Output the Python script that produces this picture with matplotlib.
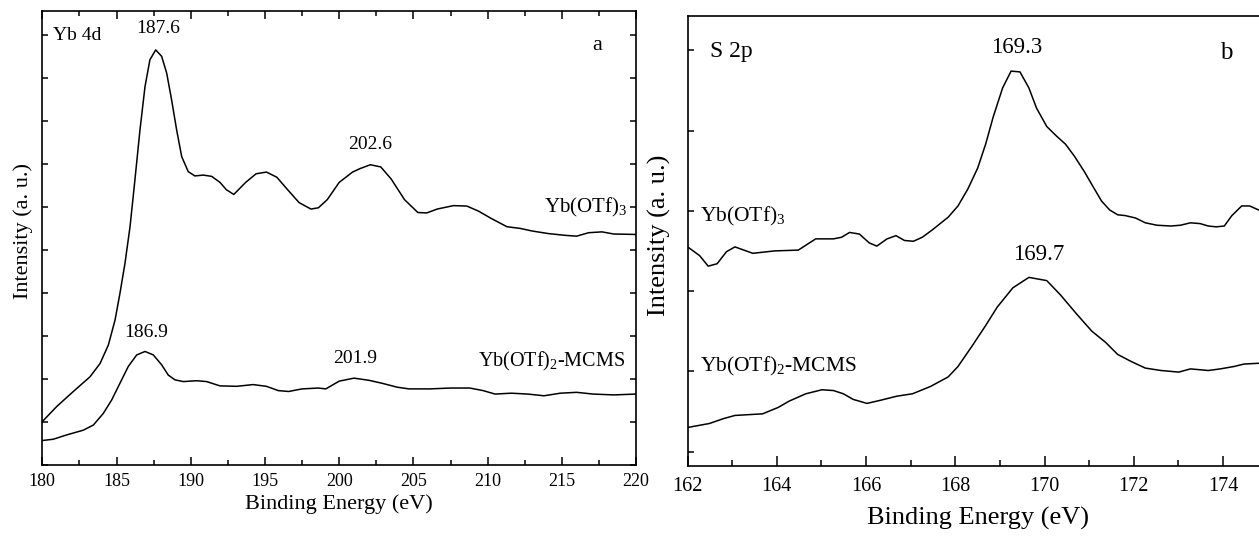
import matplotlib
matplotlib.use("Agg")
import matplotlib.pyplot as plt
from matplotlib.ticker import MultipleLocator, NullFormatter

plt.rcParams["font.family"] = ["Liberation Serif", "DejaVu Serif"]
plt.rcParams["mathtext.default"] = "regular"

# -----------------------------
# Data: (a) Yb 4d
# -----------------------------
yb4d_x_otf3 = [180.0, 180.97, 182.09, 183.21, 183.89, 184.45, 184.90, 185.23, 185.57, 185.91,
               186.24, 186.58, 186.92, 187.25, 187.64, 188.04, 188.38, 188.71, 189.05, 189.39,
               189.83, 190.28, 190.84, 191.41, 191.97, 192.4, 192.9, 193.7,
               194.4, 195.1, 195.8, 196.4, 197.3, 198.1, 198.6, 199.2, 200.0, 200.9,
               201.4, 202.1, 202.8, 203.5, 204.4, 205.3, 205.9, 206.6, 207.7, 208.6,
               209.4, 210.2, 211.3, 212.2, 213.0, 214.1, 215.2, 216.0, 216.8, 217.7,
               218.5, 220.0]
yb4d_y_otf3 = [1.01, 1.36, 1.71, 2.05, 2.36, 2.79, 3.37, 3.99, 4.69, 5.54,
               6.63, 7.79, 8.80, 9.42, 9.65, 9.50, 9.11, 8.49, 7.79, 7.17,
               6.82, 6.72, 6.74, 6.71, 6.57, 6.40, 6.29, 6.57,
               6.77, 6.81, 6.69, 6.45, 6.10, 5.95, 5.98, 6.17, 6.57, 6.81,
               6.89, 6.98, 6.93, 6.65, 6.17, 5.87, 5.86, 5.95, 6.03, 6.02,
               5.90, 5.74, 5.54, 5.50, 5.44, 5.38, 5.34, 5.32, 5.40, 5.42,
               5.37, 5.36]

yb4d_x_mcms = [180.0, 180.74, 181.64, 182.76, 183.44, 184.11, 184.67, 185.23, 185.79, 186.36,
               186.92, 187.48, 188.04, 188.49, 188.94, 189.50, 190.40, 191.07, 191.97, 193.1,
               194.2, 195.1, 195.9, 196.6, 197.5, 198.6, 199.1, 200.0, 201.0, 202.0,
               202.9, 203.9, 204.7, 206.1, 207.5, 208.8, 209.7, 210.5, 211.6, 212.7,
               213.8, 214.9, 216.0, 217.1, 218.5, 220.0]
yb4d_y_mcms = [0.57, 0.60, 0.70, 0.81, 0.93, 1.20, 1.51, 1.90, 2.29, 2.56,
               2.64, 2.56, 2.33, 2.09, 1.98, 1.94, 1.96, 1.94, 1.84, 1.83,
               1.87, 1.83, 1.73, 1.71, 1.77, 1.79, 1.77, 1.95, 2.02, 1.97,
               1.90, 1.81, 1.77, 1.77, 1.79, 1.79, 1.73, 1.65, 1.67, 1.65,
               1.61, 1.67, 1.69, 1.65, 1.63, 1.65]

# -----------------------------
# Data: (b) S 2p
# -----------------------------
s2p_x_otf3 = [162.0, 162.27, 162.46, 162.66, 162.87, 163.06, 163.46, 163.95, 164.48, 164.87,
              165.27, 165.45, 165.63, 165.85, 166.07, 166.24, 166.47, 166.67, 166.86, 167.06,
              167.26, 167.48, 167.84, 168.06, 168.28, 168.50, 168.68, 168.85, 169.06, 169.25,
              169.45, 169.65, 169.82, 170.05, 170.27, 170.47, 170.67, 170.89, 171.11, 171.28,
              171.46, 171.64, 171.81, 172.04, 172.26, 172.52, 172.83, 173.05, 173.27, 173.49,
              173.67, 173.85, 174.03, 174.20, 174.42, 174.60, 174.80]
s2p_y_otf3 = [3.55, 3.44, 3.31, 3.34, 3.49, 3.55, 3.47, 3.50, 3.51, 3.65,
              3.65, 3.67, 3.73, 3.71, 3.60, 3.56, 3.65, 3.69, 3.63, 3.62,
              3.67, 3.76, 3.92, 4.06, 4.27, 4.53, 4.83, 5.17, 5.53, 5.74,
              5.73, 5.53, 5.28, 5.05, 4.93, 4.83, 4.68, 4.49, 4.28, 4.12,
              4.01, 3.95, 3.94, 3.91, 3.85, 3.82, 3.81, 3.82, 3.85, 3.84,
              3.81, 3.80, 3.81, 3.94, 4.06, 4.06, 4.01]

s2p_x_mcms = [162.0, 162.49, 162.80, 163.06, 163.37, 163.68, 164.03, 164.28, 164.65, 165.01,
              165.27, 165.49, 165.71, 166.02, 166.33, 166.69, 167.04, 167.44, 167.84, 168.06,
              168.37, 168.68, 168.94, 169.29, 169.65, 170.05, 170.36, 170.71, 171.06, 171.37,
              171.64, 171.95, 172.26, 172.61, 173.01, 173.27, 173.67, 173.94, 174.25, 174.47,
              174.80]
s2p_y_mcms = [1.30, 1.35, 1.41, 1.45, 1.46, 1.47, 1.55, 1.63, 1.72, 1.77,
              1.76, 1.72, 1.65, 1.60, 1.64, 1.69, 1.72, 1.81, 1.93, 2.06,
              2.31, 2.57, 2.80, 3.04, 3.17, 3.13, 2.95, 2.72, 2.50, 2.36,
              2.21, 2.12, 2.04, 2.01, 1.99, 2.03, 2.01, 2.03, 2.06, 2.09,
              2.10]

label_otf3 = "Yb(OTf)$_3$"
label_mcms = "Yb(OTf)$_2$-MCMS"


fig = plt.figure(figsize=(12.59, 5.37), dpi=100)

# -----------------------------
# Panel a
# -----------------------------
ax1 = fig.add_axes([0.0336, 0.134, 0.4716, 0.846])
ax1.plot(yb4d_x_otf3, yb4d_y_otf3, color="black", lw=1.1)
ax1.plot(yb4d_x_mcms, yb4d_y_mcms, color="black", lw=1.1)
ax1.set_xlim(180, 220)
ax1.set_ylim(0, 10.56)
ax1.xaxis.set_major_locator(MultipleLocator(5))
ax1.xaxis.set_minor_locator(MultipleLocator(2.5))
ax1.yaxis.set_major_locator(MultipleLocator(1))
ax1.yaxis.set_major_formatter(NullFormatter())
ax1.tick_params(which="both", direction="in", top=True, right=True, width=1.1, labelsize=13, pad=6)
ax1.tick_params(which="major", length=6)
ax1.tick_params(which="minor", length=3.5)
ax1.tick_params(axis="y", which="major", length=4)
for s in ax1.spines.values():
    s.set_linewidth(1.2)

ax1.set_xlabel("Binding Energy (eV)", fontsize=16)
ax1.xaxis.set_label_coords(0.5, -0.064)
ax1.set_ylabel("Intensity (a. u.)", fontsize=16)
ax1.yaxis.set_label_coords(-0.016, 0.515)

ax1.text(180.7, 9.98, "Yb 4d", fontsize=14, ha="left", va="center")
ax1.text(217.4, 9.75, "a", fontsize=16, ha="center", va="center")
ax1.text(187.8, 10.14, "187.6", fontsize=14, ha="center", va="center")
ax1.text(202.1, 7.44, "202.6", fontsize=14, ha="center", va="center")
ax1.text(187.0, 3.08, "186.9", fontsize=14, ha="center", va="center")
ax1.text(201.1, 2.48, "201.9", fontsize=14, ha="center", va="center")
ax1.text(219.4, 5.98, label_otf3, fontsize=15, ha="right", va="center")
ax1.text(219.3, 2.40, label_mcms, fontsize=14.5, ha="right", va="center")

# -----------------------------
# Panel b
# -----------------------------
ax2 = fig.add_axes([0.5462, 0.1322, 0.4606, 0.8385])
ax2.plot(s2p_x_otf3, s2p_y_otf3, color="black", lw=1.1)
ax2.plot(s2p_x_mcms, s2p_y_mcms, color="black", lw=1.1)
ax2.set_xlim(162, 175)
ax2.set_ylim(0.82, 6.43)
ax2.xaxis.set_major_locator(MultipleLocator(2))
ax2.xaxis.set_minor_locator(MultipleLocator(1))
ax2.yaxis.set_major_locator(MultipleLocator(1))
ax2.yaxis.set_major_formatter(NullFormatter())
ax2.tick_params(which="both", direction="in", top=False, right=False, width=1.1, labelsize=14.5, pad=8)
ax2.tick_params(which="major", length=7.5)
ax2.tick_params(which="minor", length=4)
ax2.tick_params(axis="y", which="major", length=4)
for s in ax2.spines.values():
    s.set_linewidth(1.2)

ax2.set_xlabel("Binding Energy (eV)", fontsize=19)
ax2.xaxis.set_label_coords(0.501, -0.09)
ax2.set_ylabel("Intensity (a. u.)", fontsize=19)
ax2.yaxis.set_label_coords(-0.028, 0.513)

ax2.text(162.49, 5.98, "S 2p", fontsize=17, ha="left", va="center")
ax2.text(174.07, 5.96, "b", fontsize=18, ha="center", va="center")
ax2.text(169.38, 6.04, "169.3", fontsize=16.5, ha="center", va="center")
ax2.text(169.87, 3.46, "169.7", fontsize=16.5, ha="center", va="center")
ax2.text(162.27, 3.93, label_otf3, fontsize=15.5, ha="left", va="center")
ax2.text(162.27, 2.06, label_mcms, fontsize=15.5, ha="left", va="center")

fig.savefig("out.png", dpi=100)
